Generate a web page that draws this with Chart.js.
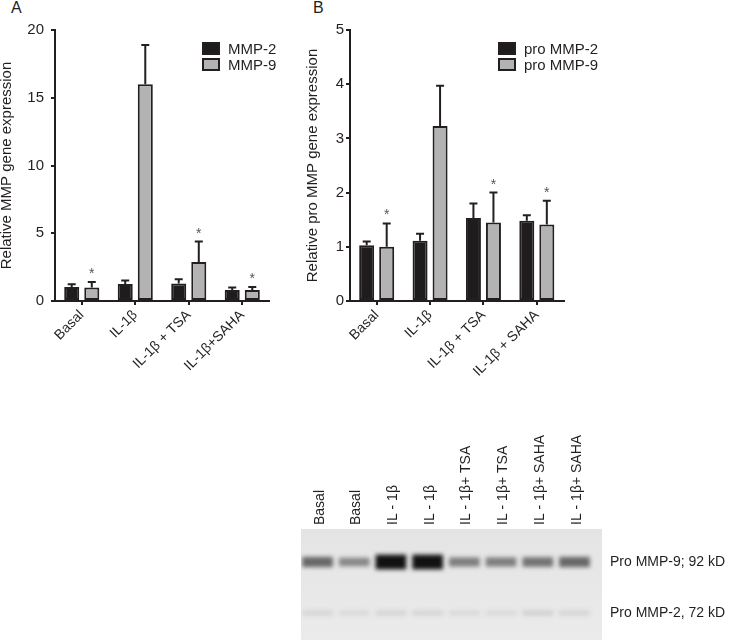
<!DOCTYPE html>
<html>
<head>
<meta charset="utf-8">
<script src="https://cdn.jsdelivr.net/npm/chart.js@4.4.0/dist/chart.umd.min.js"></script>
<style>
  body { margin: 0; background: #fff; width: 730px; height: 640px; position: relative; overflow: hidden;
         font-family: Arial, "Liberation Sans", sans-serif; color: #231f20; }
  canvas { position: absolute; }
  .panel { position: absolute; top: 0; font-size: 16px; line-height: 16px; }
  .legend { position: absolute; font-size: 15px; }
  .legend .item { height: 16px; display: flex; align-items: center; }
  .legend .box { width: 18px; height: 13px; box-sizing: border-box; border: 2px solid #231f20; margin-right: 8px; }
</style>
</head>
<body>
<div class="panel" style="left:11px">A</div>
<div class="panel" style="left:313px">B</div>
<canvas id="chartA" width="292" height="390" style="left:-2px; top:0"></canvas>
<canvas id="chartB" width="290" height="390" style="left:296px; top:0"></canvas>
<canvas id="gel" width="430" height="220" style="left:300px; top:420px"></canvas>
<div class="legend" id="legendA" style="left:202px; top:40px"></div>
<div class="legend" id="legendB" style="left:498px; top:40px"></div>

<script>
// Panel A - mRNA
const categoriesA = ['Basal', 'IL-1β', 'IL-1β + TSA', 'IL-1β+SAHA'];
const mmp2 = [1.03, 1.25, 1.3, 0.81];
const mmp2Err = [0.2, 0.27, 0.3, 0.19];
const mmp9 = [1.0, 16.0, 2.87, 0.81];
const mmp9Err = [0.4, 2.9, 1.52, 0.22];
const mmp9Sig = [true, false, true, true];

// Panel B - zymography densitometry
const categoriesB = ['Basal', 'IL-1β', 'IL-1β + TSA', 'IL-1β + SAHA'];
const proMmp2 = [1.03, 1.11, 1.53, 1.48];
const proMmp2Err = [0.07, 0.13, 0.27, 0.1];
const proMmp9 = [1.0, 3.23, 1.45, 1.41];
const proMmp9Err = [0.43, 0.74, 0.55, 0.44];
const proMmp9Sig = [true, false, true, true];

// Gel
const lanes = ['Basal', 'Basal', 'IL - 1β', 'IL - 1β', 'IL - 1β+ TSA', 'IL - 1β+ TSA', 'IL - 1β+ SAHA', 'IL - 1β+ SAHA'];
const band92 = [0.6, 0.45, 1.0, 1.0, 0.5, 0.5, 0.55, 0.6];
const band72 = [0.1, 0.08, 0.1, 0.1, 0.08, 0.08, 0.12, 0.1];
const bandNames = ['Pro MMP-9; 92 kD', 'Pro MMP-2, 72 kD'];
const bandMigration = [33, 84];

const ink = '#231f20';
Chart.defaults.font.family = 'Arial, "Liberation Sans", sans-serif';
Chart.defaults.font.size = 14;
Chart.defaults.color = ink;

// error bars + significance stars on top of bars
const errorBars = {
    id: 'errorBars',
    afterDatasetsDraw(chart) {
        const ctx = chart.ctx;
        const y = chart.scales.y;
        chart.data.datasets.forEach((ds, di) => {
            chart.getDatasetMeta(di).data.forEach((bar, i) => {
                const top = y.getPixelForValue(ds.data[i] + ds.errors[i]);
                ctx.save();
                ctx.strokeStyle = ink;
                ctx.lineWidth = 2;
                ctx.beginPath();
                ctx.moveTo(bar.x, bar.y);
                ctx.lineTo(bar.x, top);
                ctx.moveTo(bar.x - 4, top);
                ctx.lineTo(bar.x + 4, top);
                ctx.stroke();
                if (ds.stars && ds.stars[i]) {
                    ctx.fillStyle = '#555';
                    ctx.font = '14px Arial, "Liberation Sans", sans-serif';
                    ctx.textAlign = 'center';
                    ctx.fillText('*', bar.x, top - 4);
                }
                ctx.restore();
            });
        });
    }
};

function barDataset(label, data, errors, fill, stars) {
    return {
        label, data, errors, stars,
        backgroundColor: fill,
        borderColor: ink,
        borderWidth: 2,
        borderSkipped: false
    };
}

function barOptions(cfg) {
    return {
        responsive: false,
        animation: false,
        layout: { padding: { top: 30, right: cfg.padRight, left: 0, bottom: 0 } },
        plugins: { legend: { display: false }, tooltip: { enabled: false } },
        datasets: { bar: { categoryPercentage: 0.75, barPercentage: 0.75 } },
        scales: {
            x: {
                grid: { offset: false, drawOnChartArea: false, tickLength: 4, lineWidth: 2, color: ink },
                border: { color: ink, width: 2 },
                ticks: { minRotation: 45, maxRotation: 45, padding: 2, autoSkip: false },
                afterFit: s => { s.height = 89; s.paddingLeft = 0; s.paddingRight = 0; }
            },
            y: {
                min: 0, max: cfg.max,
                ticks: { stepSize: cfg.step, padding: cfg.tickPad, font: { size: 15 } },
                grid: { drawOnChartArea: false, tickLength: 4, lineWidth: 2, color: ink },
                border: { color: ink, width: 2 },
                title: { display: true, text: cfg.title, font: { size: 15 },
                         padding: { top: cfg.titlePad, bottom: 0 } },
                afterFit: s => { s.width = cfg.yWidth; }
            }
        }
    };
}

function buildLegend(id, chart) {
    document.getElementById(id).innerHTML = chart.data.datasets.map(ds =>
        `<div class="item"><span class="box" style="background:${ds.backgroundColor}"></span>${ds.label}</div>`
    ).join('');
}

const chartA = new Chart(document.getElementById('chartA'), {
    type: 'bar',
    data: {
        labels: categoriesA,
        datasets: [
            barDataset('MMP-2', mmp2, mmp2Err, '#1f1c1d'),
            barDataset('MMP-9', mmp9, mmp9Err, '#b3b3b4', mmp9Sig)
        ]
    },
    options: barOptions({ max: 20, step: 5, tickPad: 7, yWidth: 57, padRight: 21, titlePad: 0,
                          title: 'Relative MMP gene expression' }),
    plugins: [errorBars]
});

const chartB = new Chart(document.getElementById('chartB'), {
    type: 'bar',
    data: {
        labels: categoriesB,
        datasets: [
            barDataset('pro MMP-2', proMmp2, proMmp2Err, '#1f1c1d'),
            barDataset('pro MMP-9', proMmp9, proMmp9Err, '#b3b3b4', proMmp9Sig)
        ]
    },
    options: barOptions({ max: 5, step: 1, tickPad: 2, yWidth: 54, padRight: 22.5, titlePad: 8,
                          title: 'Relative pro MMP gene expression' }),
    plugins: [errorBars]
});

buildLegend('legendA', chartA);
buildLegend('legendB', chartB);

// gel: background + soft bands
const gelBackground = {
    id: 'gelBackground',
    beforeDatasetsDraw(chart) {
        const { ctx, chartArea: a } = chart;
        const g = ctx.createLinearGradient(0, a.top, 0, a.bottom);
        g.addColorStop(0, '#e4e4e4');
        g.addColorStop(1, '#ebebeb');
        ctx.save();
        ctx.fillStyle = g;
        ctx.fillRect(a.left, a.top, a.width, a.height);
        ctx.restore();
        ctx.save();
        ctx.filter = 'blur(2.2px)';
    },
    afterDatasetsDraw(chart) {
        chart.ctx.restore();
    }
};

function bandDataset(intensity, row) {
    return {
        data: intensity.map((v, i) => {
            const h = 3 + 11 * v;
            return { x: i, y: [bandMigration[row] - h / 2, bandMigration[row] + h / 2] };
        }),
        backgroundColor: intensity.map(v => {
            const g = Math.round(232 - 215 * v);
            return `rgb(${g},${g},${g})`;
        }),
        barThickness: 30,
        grouped: false,
        borderWidth: 0
    };
}

new Chart(document.getElementById('gel'), {
    type: 'bar',
    data: { datasets: [bandDataset(band92, 0), bandDataset(band72, 1)] },
    options: {
        responsive: false,
        animation: false,
        layout: { padding: { left: 1, top: 0, right: 0, bottom: 0 } },
        plugins: { legend: { display: false }, tooltip: { enabled: false } },
        scales: {
            x: {
                type: 'linear', position: 'top', min: -0.45, max: 7.75, offset: false,
                afterBuildTicks: s => { s.ticks = lanes.map((_, i) => ({ value: i })); },
                afterFit: s => { s.height = 109; s.paddingLeft = 0; s.paddingRight = 0; },
                ticks: { callback: v => lanes[v], minRotation: 90, maxRotation: 90, padding: 4,
                         labelOffset: 19, autoSkip: false },
                grid: { display: false, drawTicks: false },
                border: { display: false }
            },
            y: {
                type: 'linear', position: 'right', reverse: true, min: 0, max: 111,
                afterBuildTicks: s => { s.ticks = bandMigration.map(v => ({ value: v })); },
                afterFit: s => { s.width = 128; s.paddingTop = 0; s.paddingBottom = 0; },
                ticks: { callback: (v, i) => bandNames[i], padding: 8 },
                grid: { display: false, drawTicks: false },
                border: { display: false }
            }
        }
    },
    plugins: [gelBackground]
});
</script>
</body>
</html>
